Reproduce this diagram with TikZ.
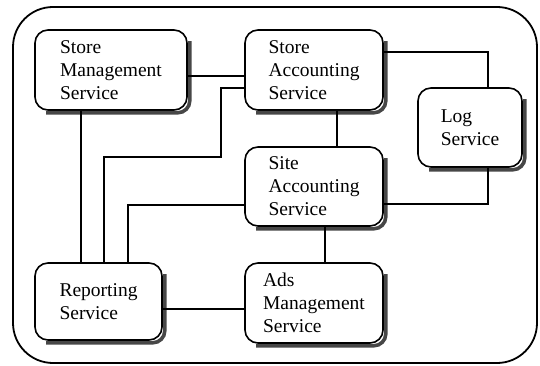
\documentclass[tikz,border=0pt]{standalone}
\usepackage{fontspec}
\setmainfont{Liberation Serif}
\begin{document}
\begin{tikzpicture}[x=1pt,y=-1pt,
  svc/.style={draw, line width=1.6pt, rounded corners=13pt, fill=white, align=left,
    font=\rmfamily\fontsize{19.5}{23}\selectfont, inner sep=0pt},
  shade/.style={draw=black!72, line width=3.6pt, rounded corners=12pt},
  link/.style={line width=1.4pt}]
\useasboundingbox (0,0) rectangle (540,366);
\draw[line width=1.8pt, rounded corners=40pt] (13,7) rectangle (537,363);
\node[svc, minimum width=152pt, minimum height=80pt] (sm) at (111,70) {Store\\Management\\Service};
\node[svc, minimum width=138pt, minimum height=80pt] (sa) at (314,70) {Store\\Accounting\\Service};
\node[svc, minimum width=104pt, minimum height=79pt] (log) at (470,127.5) {Log\\Service};
\node[svc, minimum width=138pt, minimum height=79pt] (site) at (314,186.5) {Site\\Accounting\\Service};
\node[svc, minimum width=138pt, minimum height=80pt] (ads) at (314,303) {Ads\\Management\\Service};
\node[svc, minimum width=127pt, minimum height=77pt] (rep) at (98.5,301.5) {Reporting\\Service};
% shadows along right and bottom edges
\foreach \n in {sm,sa,log,site,ads,rep}
  \draw[shade] ([shift={(2,12)}]\n.north east) -- ([shift={(2,2)}]\n.south east) -- ([shift={(12,2)}]\n.south west);
\coordinate (y76) at (0,76);
\coordinate (y52) at (0,52);
\coordinate (y204) at (0,204);
\coordinate (y309) at (0,309);
\coordinate (y88) at (0,88);
\coordinate (y205) at (0,205);
\coordinate (x81) at (81,0);
\coordinate (x104) at (104,0);
\coordinate (x128) at (128,0);
\coordinate (bend1) at (221,157);
\draw[link] (sm.east |- y76) -- (sa.west |- y76);
\draw[link] (sa.east |- y52) -| ([xshift=18pt]log.north);
\draw[link] ([xshift=18pt]log.south) |- (site.east |- y204);
\draw[link] ([xshift=23pt]sa.south) -- ([xshift=23pt]site.north);
\draw[link] ([xshift=11pt]site.south) -- ([xshift=11pt]ads.north);
\draw[link] (rep.east |- y309) -- (ads.west |- y309);
\draw[link] (sm.south -| x81) -- (rep.north -| x81);
\draw[link] (sa.west |- y88) -| (bend1) -| (rep.north -| x104);
\draw[link] (site.west |- y205) -| (rep.north -| x128);
\end{tikzpicture}
\end{document}
